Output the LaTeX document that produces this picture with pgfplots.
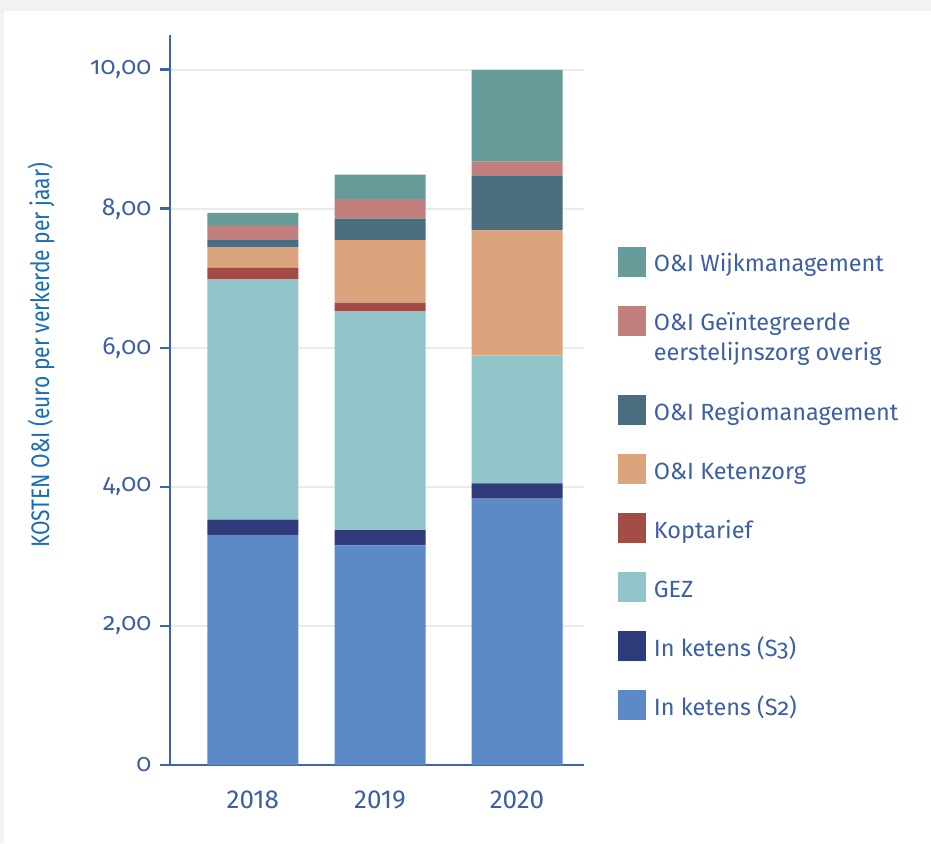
\documentclass[border=0pt]{standalone}
\usepackage{fontspec}
\setmainfont{Fira Sans}[Numbers=OldStyle]
\newfontfamily\lining{Fira Sans}[Numbers=Lining]
\newfontfamily\condfont{Fira Sans}[FakeStretch=0.83]
\usepackage{pgfplots}
\usepackage{pgfplotstable}
\pgfplotsset{compat=1.18}
\definecolor{cS2}{HTML}{5B8AC6}
\definecolor{cS3}{HTML}{2F3A7A}
\definecolor{cGEZ}{HTML}{91C4C9}
\definecolor{cKop}{HTML}{A34C46}
\definecolor{cKet}{HTML}{DBA47D}
\definecolor{cReg}{HTML}{4A6D80}
\definecolor{cOve}{HTML}{C17F7E}
\definecolor{cWijk}{HTML}{679B99}
\definecolor{txtblue}{HTML}{3D5FA5}
\definecolor{axblue}{HTML}{3F63A8}
\definecolor{lblblue}{HTML}{1A6DB5}
\definecolor{bggray}{HTML}{F2F2F2}
\definecolor{gridgray}{HTML}{EBEBEB}
\pgfplotstableread{
x s2 s3 gez kop keten regio overig wijk
2.528 3.31 0.22 3.46 0.16 0.30 0.10 0.20 0.19
3.80 3.16 0.22 3.15 0.12 0.90 0.31 0.28 0.35
5.17 3.83 0.22 1.84 0.00 1.80 0.78 0.21 1.32
}\data
\begin{document}
\begin{tikzpicture}
\fill[bggray] (0,0) rectangle (698.25pt,632.25pt);
\fill[white] (3pt,0) rectangle (698.25pt,624pt);
\useasboundingbox (0,0) rectangle (698.25pt,632.25pt);
\begin{axis}[
  at={(127.5pt,58.5pt)}, anchor=south west,
  scale only axis, width=310.5pt, height=547.5pt,
  xmin=1.70, xmax=5.84, ymin=0, ymax=10.50,
  ybar stacked, bar width=0.91,
  axis lines=left, axis line style={-, draw=axblue, line width=2pt},
  ymajorgrids, grid style={gridgray, line width=1.5pt},
  ytick={0,2,4,6,8,10},
  yticklabels={0,{2,00},{4,00},{6,00},{8,00},{10,00}},
  xtick={2.528,3.80,5.17},
  xticklabels={2018,2019,2020},
  xtick style={draw=none},
  ytick style={draw=axblue, line width=2pt},
  tick align=outside, major tick length=7.5pt,
  /pgf/number format/assume math mode=true,
  yticklabel style={font=\fontsize{18.5}{20}\selectfont, text=txtblue, xshift=-3pt},
  xticklabel style={font=\lining\fontsize{19.5}{22}\selectfont, text=txtblue, yshift=-8pt},
  ylabel={\condfont\fontsize{19}{22}\selectfont KOSTEN O\&I (euro per verkerde per jaar)},
  ylabel style={at={(rel axis cs:-0.3116,0.561)}, anchor=center, text=lblblue},
  legend style={at={(rel axis cs:1.082,0.7105)}, anchor=north west, draw=none, fill=none,
    inner sep=0pt, row sep=21.75pt, column sep=3.75pt, font=\fontsize{17.6}{21}\selectfont, text=txtblue,
    cells={anchor=base west}},
  legend image code/.code={\fill[#1] (0pt,-3.75pt) rectangle (21pt,18.75pt);},
  reverse legend,
]
\addplot[fill=cS2, draw=none] table[x=x,y=s2] {\data};
\addlegendentry{In ketens (S2)}
\addplot[fill=cS3, draw=none] table[x=x,y=s3] {\data};
\addlegendentry{In ketens (S3)}
\addplot[fill=cGEZ, draw=none] table[x=x,y=gez] {\data};
\addlegendentry{GEZ}
\addplot[fill=cKop, draw=none] table[x=x,y=kop] {\data};
\addlegendentry{Koptarief}
\addplot[fill=cKet, draw=none] table[x=x,y=keten] {\data};
\addlegendentry{O\&I Ketenzorg}
\addplot[fill=cReg, draw=none] table[x=x,y=regio] {\data};
\addlegendentry{\rule{0pt}{39.75pt}O\&I Regiomanagement}
\addplot[fill=cOve, draw=none] table[x=x,y=overig] {\data};
\addlegendentry{\begin{tabular}[t]{@{}l@{}}O\&I Geïntegreerde\\[1.5pt]eerstelijnszorg overig\end{tabular}}
\addplot[fill=cWijk, draw=none] table[x=x,y=wijk] {\data};
\addlegendentry{O\&I Wijkmanagement}
\end{axis}
\end{tikzpicture}
\end{document}
